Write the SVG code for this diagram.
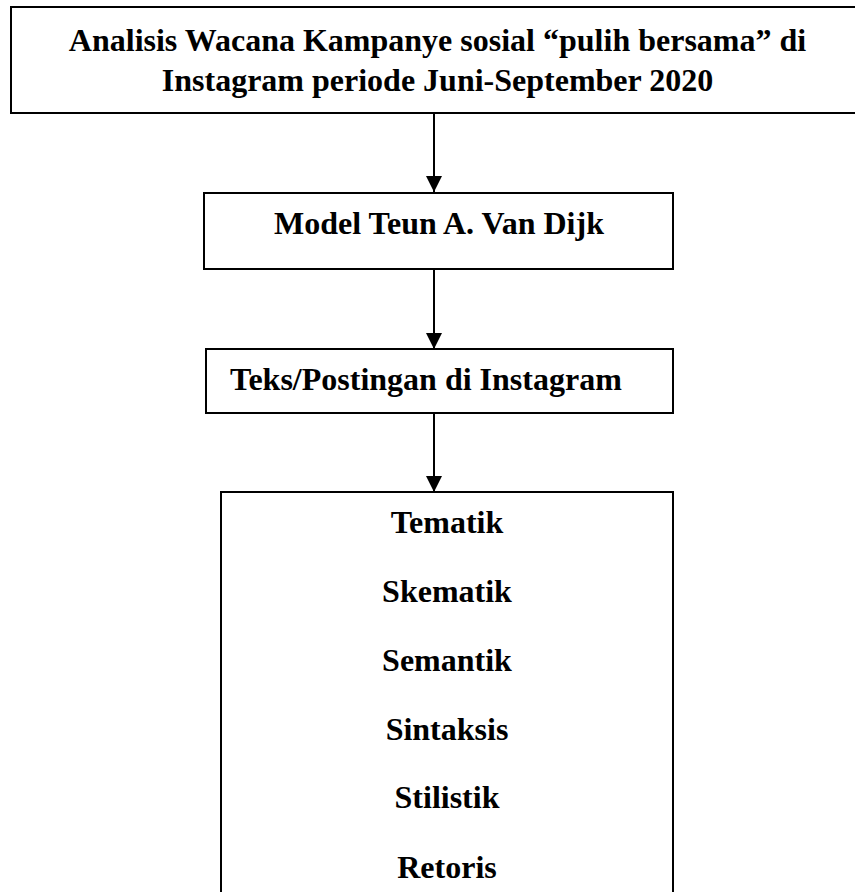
<svg xmlns="http://www.w3.org/2000/svg" width="855" height="892" viewBox="0 0 855 892">
<style>
.box{fill:#fff;stroke:#000;stroke-width:2}
.t{font-family:"Liberation Serif","Times New Roman",serif;font-weight:bold;font-size:32px;fill:#000}
.c{text-anchor:middle}
.ln{stroke:#000;stroke-width:2;fill:none}
</style>
<defs>
<marker id="ah" markerUnits="userSpaceOnUse" markerWidth="16" markerHeight="16" viewBox="0 0 16 16" refX="16" refY="8" orient="auto">
<path d="M0,0 L16,8 L0,16 Z" fill="#000"/>
</marker>
</defs>
<g id="connectors">
<line class="ln" x1="434" y1="113" x2="434" y2="192" marker-end="url(#ah)"/>
<line class="ln" x1="434" y1="270" x2="434" y2="349" marker-end="url(#ah)"/>
<line class="ln" x1="434" y1="413" x2="434" y2="492" marker-end="url(#ah)"/>
</g>
<g id="title">
<rect class="box" x="11" y="7" width="860" height="106"/>
<text class="t c" x="437.5" y="51">Analisis Wacana Kampanye sosial “pulih bersama” di</text>
<text class="t c" x="437.5" y="91">Instagram periode Juni-September 2020</text>
</g>
<g id="model">
<rect class="box" x="204" y="193" width="469" height="76"/>
<text class="t c" x="439" y="234">Model Teun A. Van Dijk</text>
</g>
<g id="teks">
<rect class="box" x="206" y="349" width="467" height="64"/>
<text class="t" x="230" y="390">Teks/Postingan di Instagram</text>
</g>
<g id="elements">
<rect class="box" x="221" y="492" width="452" height="420"/>
<text class="t c" x="447" y="533">Tematik</text>
<text class="t c" x="447" y="602">Skematik</text>
<text class="t c" x="447" y="671">Semantik</text>
<text class="t c" x="447" y="740">Sintaksis</text>
<text class="t c" x="447" y="808">Stilistik</text>
<text class="t c" x="447" y="878">Retoris</text>
</g>
</svg>
